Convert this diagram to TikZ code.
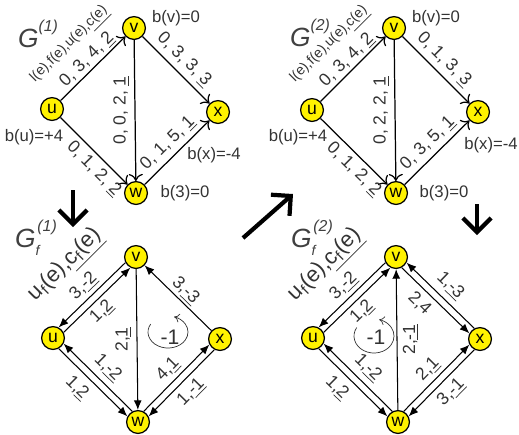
\documentclass[tikz,border=0pt]{standalone}
\usepackage{fontspec}
\setmainfont{Liberation Sans}
\usetikzlibrary{arrows.meta}

\newcommand{\gsup}[1]{\textit{G}\raisebox{1.1ex}{\fontsize{9}{9}\selectfont\textit{(#1)}}}
\newcommand{\gfsup}[1]{\textit{G}\rlap{\raisebox{-0.6ex}{\fontsize{8}{8}\selectfont\textit{f}}}\hspace{1pt}\raisebox{1.1ex}{\fontsize{9}{9}\selectfont\textit{(#1)}}}

\tikzset{
  vtx/.style={circle, draw, line width=0.7pt, fill=yellow, minimum size=13pt, inner sep=0pt, font=\fontsize{10}{12}\selectfont},
  flw/.style={-{To[length=4pt,width=8pt]}, line width=0.7pt},
  res/.style={-{Latex[length=5.5pt,width=4.5pt]}, line width=0.6pt},
  lbl/.style={font=\fontsize{10}{12}\selectfont, inner sep=1pt, text=black!80},
  bal/.style={font=\fontsize{9.5}{11}\selectfont, text=black!80},
  ttl/.style={font=\fontsize{15}{17}\selectfont, text=black!75},
  big/.style={line width=2.4pt, -{Straight Barb[length=8pt,width=16pt]}},
  cyc/.style={-{To[length=3pt,width=5pt]}, line width=0.4pt, black!80},
}

\begin{document}
\begin{tikzpicture}[x=0.02cm, y=-0.02cm]
\useasboundingbox (0,0) rectangle (519,434);

% G^(1)
\node[ttl] at (38,34) {\gsup{1}};
\node[vtx] (g1u) at (52,109) {u};
\node[vtx] (g1v) at (134,28) {v};
\node[vtx] (g1x) at (218,112) {x};
\node[vtx] (g1w) at (136,193) {w};
\node[lbl, font=\fontsize{8}{9}\selectfont, rotate=45] at (70,45) {l(e),f(e),u(e),\underline{c(e)}};
\draw[flw] (g1u) -- (g1v) node[lbl, pos=0.52, sloped, above] {0, 3, 4, \underline{2}};
\draw[flw] (g1u) -- (g1w) node[lbl, pos=0.63, sloped, below=1.5pt] {0, 1, 2, \underline{2}};
\draw[flw] (g1v) -- (g1x) node[lbl, pos=0.48, sloped, above=1.5pt] {0, 3, 3, \underline{3}};
\draw[flw] (g1w) -- (g1x) node[lbl, midway, sloped, above=1.5pt] {0, 1, 5, \underline{1}};
\draw[flw] (g1v) -- (g1w) node[lbl, midway, rotate=90, anchor=south, yshift=2pt] {0, 0, 2, \underline{1}};
\node[bal] at (176,18) {b(v)=0};
\node[bal] at (34,137) {b(u)=+4};
\node[bal] at (214,155) {b(x)=-4};
\node[bal] at (185,193) {b(3)=0};

% G^(2)
\node[ttl] at (310,33) {\gsup{2}};
\node[vtx] (g2u) at (312,110) {u};
\node[vtx] (g2v) at (394,28) {v};
\node[vtx] (g2x) at (478,112) {x};
\node[vtx] (g2w) at (396,193) {w};
\node[lbl, font=\fontsize{8}{9}\selectfont, rotate=45] at (330,45) {l(e),f(e),u(e),\underline{c(e)}};
\draw[flw] (g2u) -- (g2v) node[lbl, pos=0.52, sloped, above] {0, 3, 4, \underline{2}};
\draw[flw] (g2u) -- (g2w) node[lbl, pos=0.63, sloped, below=1.5pt] {0, 1, 2, \underline{2}};
\draw[flw] (g2v) -- (g2x) node[lbl, pos=0.48, sloped, above=1.5pt] {0, 1, 3, \underline{3}};
\draw[flw] (g2w) -- (g2x) node[lbl, midway, sloped, above=1.5pt] {0, 3, 5, \underline{1}};
\draw[flw] (g2v) -- (g2w) node[lbl, midway, rotate=90, anchor=south, yshift=2pt] {0, 2, 2, \underline{1}};
\node[bal] at (436,18) {b(v)=0};
\node[bal] at (298,137) {b(u)=+4};
\node[bal] at (491,145) {b(x)=-4};
\node[bal] at (444,193) {b(3)=0};

% step arrows
\coordinate (d1s) at (73,190);
\coordinate (d1e) at (73,227);
\coordinate (d2s) at (243,238);
\coordinate (d2e) at (293,194);
\coordinate (d3s) at (477,204);
\coordinate (d3e) at (477,235);
\draw[big] (d1s) -- (d1e);
\draw[big] (d2s) -- (d2e);
\draw[big] (d3s) -- (d3e);

% G_f^(1)
\node[ttl] at (36,238) {\gfsup{1}};
\node[lbl, font=\fontsize{12.5}{14}\selectfont, rotate=45] at (66,266) {u\textsubscript{f}(e),\underline{c\textsubscript{f}(e)}};
\node[vtx] (f1v) at (136,257) {v};
\node[vtx] (f1u) at (53,338) {u};
\node[vtx] (f1x) at (220,339) {x};
\node[vtx] (f1w) at (138,422) {w};
\draw[res] (f1v.208) -- (f1u.62) node[lbl, midway, sloped, above=1pt] {3,\underline{-2}};
\draw[res] (f1u.28) -- (f1v.242) node[lbl, pos=0.45, sloped, below=1pt] {1,\underline{2}};
\draw[res] (f1u.298) -- (f1w.152) node[lbl, pos=0.42, sloped, below=3pt] {1,\underline{2}};
\draw[res] (f1w.118) -- (f1u.332) node[lbl, midway, sloped, above=2pt] {1,\underline{-2}};
\draw[res] (f1w.62) -- (f1x.208) node[lbl, midway, sloped, above=1pt] {4,\underline{1}};
\draw[res] (f1x.242) -- (f1w.28) node[lbl, midway, sloped, below=2pt] {1,\underline{-1}};
\draw[res] (f1x) -- (f1v) node[lbl, midway, sloped, above] {3,\underline{-3}};
\draw[res] (f1v) -- (f1w) node[lbl, midway, rotate=90, anchor=south, yshift=2pt] {2,\underline{1}};
\node[lbl, font=\fontsize{12}{14}\selectfont] (cy1) at (170,337) {-1};
\draw[cyc] (cy1) ++(-2,-5) ++(-150:20 and 16) arc[start angle=-150, end angle=-432, x radius=20, y radius=16];

% G_f^(2)
\node[ttl] at (312,238) {\gfsup{2}};
\node[lbl, font=\fontsize{12.5}{14}\selectfont, rotate=45] at (326,266) {u\textsubscript{f}(e),\underline{c\textsubscript{f}(e)}};
\node[vtx] (f2v) at (396,257) {v};
\node[vtx] (f2u) at (313,338) {u};
\node[vtx] (f2x) at (480,339) {x};
\node[vtx] (f2w) at (398,422) {w};
\draw[res] (f2v.208) -- (f2u.62) node[lbl, midway, sloped, above=1pt] {3,\underline{-2}};
\draw[res] (f2u.28) -- (f2v.242) node[lbl, pos=0.45, sloped, below=1pt] {1,\underline{2}};
\draw[res] (f2u.298) -- (f2w.152) node[lbl, pos=0.42, sloped, below=3pt] {1,\underline{2}};
\draw[res] (f2w.118) -- (f2u.332) node[lbl, midway, sloped, above=2pt] {1,\underline{-2}};
\draw[res] (f2w.62) -- (f2x.208) node[lbl, midway, sloped, above=1pt] {2,\underline{1}};
\draw[res] (f2x.242) -- (f2w.28) node[lbl, midway, sloped, below=2pt] {3,\underline{-1}};
\draw[res] (f2x.118) -- (f2v.332) node[lbl, midway, sloped, above=2pt] {1,\underline{-3}};
\draw[res] (f2v.298) -- (f2x.152) node[lbl, pos=0.4, sloped, below=2pt] {2,4};
\draw[res] (f2w) -- (f2v) node[lbl, midway, rotate=90, anchor=north, yshift=-2pt] {2,\underline{-1}};
\node[lbl, font=\fontsize{12}{14}\selectfont] (cy2) at (376,337) {-1};
\draw[cyc] (cy2) ++(-2,-1) ++(-150:20 and 17) arc[start angle=-150, end angle=-435, x radius=20, y radius=17];
\end{tikzpicture}
\end{document}
